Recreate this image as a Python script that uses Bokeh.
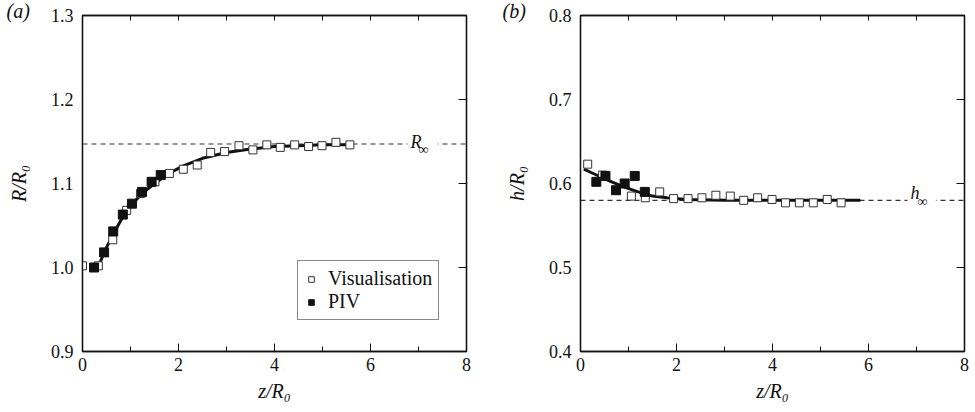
from bokeh.plotting import figure
from bokeh.models import (Range1d, LinearAxis, FixedTicker, Span, Label, Legend, LegendItem,
                          PrintfTickFormatter, Title)
from bokeh.layouts import row
from bokeh.embed import file_html
from bokeh.resources import INLINE

# ---------------- data ----------------
# Panel (a): R/R0 versus z/R0
vis_a_z = [0.00, 0.33, 0.63, 0.92, 1.21, 1.51, 1.81, 2.10, 2.39, 2.67, 2.96, 3.26, 3.55,
           3.84, 4.12, 4.42, 4.71, 4.99, 5.28, 5.57]
vis_a_r = [1.002, 1.002, 1.033, 1.068, 1.088, 1.102, 1.112, 1.117, 1.122, 1.137, 1.138, 1.145,
           1.140, 1.146, 1.143, 1.146, 1.144, 1.145, 1.149, 1.146]
piv_a_z = [0.24, 0.45, 0.64, 0.84, 1.03, 1.24, 1.44, 1.63]
piv_a_r = [1.000, 1.018, 1.043, 1.063, 1.076, 1.090, 1.102, 1.110]
fit_a_z = [0.34, 0.45, 0.64, 0.84, 1.03, 1.24, 1.50, 1.80, 2.10, 2.50, 3.00, 3.50, 4.00, 4.50,
           5.00, 5.60]
fit_a_r = [1.002, 1.018, 1.040, 1.060, 1.075, 1.088, 1.100, 1.112, 1.121, 1.130, 1.137, 1.141,
           1.144, 1.145, 1.146, 1.146]
r_inf = 1.147

# Panel (b): h/R0 versus z/R0
vis_b_z = [0.15, 0.46, 1.06, 1.35, 1.65, 1.94, 2.24, 2.53, 2.82, 3.12, 3.40, 3.69, 3.99,
           4.27, 4.56, 4.85, 5.14, 5.43]
vis_b_h = [0.623, 0.610, 0.585, 0.583, 0.590, 0.582, 0.582, 0.583, 0.586, 0.585, 0.580, 0.583,
           0.581, 0.577, 0.577, 0.577, 0.581, 0.577]
piv_b_z = [0.33, 0.52, 0.74, 0.92, 1.13, 1.34]
piv_b_h = [0.602, 0.609, 0.592, 0.600, 0.609, 0.590]
fit_b_z = [0.07, 0.30, 0.60, 0.90, 1.20, 1.50, 1.80, 2.20, 3.00, 4.00, 5.00, 5.83]
fit_b_h = [0.617, 0.611, 0.603, 0.596, 0.590, 0.585, 0.583, 0.581, 0.580, 0.580, 0.580, 0.580]
h_inf = 0.580

x_major = [0, 2, 4, 6, 8]
x_minor = [1, 3, 5, 7]
x_top = [1, 2, 3, 4, 5, 6, 7]
y_ticks_a = [0.9, 1.0, 1.1, 1.2, 1.3]
y_ticks_b = [0.4, 0.5, 0.6, 0.7, 0.8]

SERIF = "serif"
TICK_PX = "18px"
LABEL_PX = "20px"
INK = "#111111"
NBSP = "\u00a0"


def make_panel(width, border_left, border_right, y_lo, y_hi, y_ticks, ylabel, panel_tag,
               vis_x, vis_y, piv_x, piv_y, fit_x, fit_y, asym, asym_sym, asym_pos, with_legend):
    p = figure(width=width, height=410, output_backend="svg", toolbar_location=None,
               x_range=Range1d(0, 8), y_range=Range1d(y_lo, y_hi),
               min_border_left=border_left, min_border_right=border_right,
               min_border_top=15, min_border_bottom=59)
    p.background_fill_color = "white"
    p.border_fill_color = "white"
    p.outline_line_color = INK
    p.outline_line_width = 1.3
    p.grid.visible = False

    # bottom axis
    xa = p.xaxis[0]
    xa.ticker = FixedTicker(ticks=x_major, minor_ticks=x_minor)
    xa.major_tick_in = 8
    xa.major_tick_out = 0
    xa.minor_tick_in = 5
    xa.minor_tick_out = 0
    xa.major_label_text_font = SERIF
    xa.major_label_text_font_size = TICK_PX
    xa.major_label_text_color = INK
    xa.major_label_standoff = 6
    xa.axis_label = "z/R\u2080"
    xa.axis_label_text_font = SERIF
    xa.axis_label_text_font_style = "italic"
    xa.axis_label_text_font_size = LABEL_PX
    xa.axis_label_text_color = INK
    xa.axis_label_standoff = 6
    xa.axis_line_color = INK
    xa.axis_line_width = 1.3
    xa.major_tick_line_color = INK
    xa.minor_tick_line_color = INK

    # left axis
    ya = p.yaxis[0]
    ya.ticker = FixedTicker(ticks=y_ticks)
    ya.formatter = PrintfTickFormatter(format="%.1f")
    ya.major_tick_in = 0
    ya.major_tick_out = 0
    ya.minor_tick_line_color = None
    ya.major_label_text_font = SERIF
    ya.major_label_text_font_size = TICK_PX
    ya.major_label_text_color = INK
    ya.major_label_standoff = 9
    ya.axis_label = ylabel
    ya.axis_label_text_font = SERIF
    ya.axis_label_text_font_style = "italic"
    ya.axis_label_text_font_size = LABEL_PX
    ya.axis_label_text_color = INK
    ya.axis_label_standoff = 18
    ya.axis_line_color = INK
    ya.axis_line_width = 1.3

    # right axis (ticks only)
    ra = LinearAxis(ticker=FixedTicker(ticks=y_ticks), major_tick_in=8, major_tick_out=0,
                    minor_tick_line_color=None,
                    major_label_overrides={t: "" for t in y_ticks},
                    major_label_standoff=0, axis_line_color=INK, axis_line_width=1.3,
                    major_tick_line_color=INK)
    p.add_layout(ra, "right")
    # top axis (ticks only)
    ta = LinearAxis(ticker=FixedTicker(ticks=x_top), major_tick_in=5, major_tick_out=0,
                    minor_tick_line_color=None,
                    major_label_overrides={t: "" for t in x_top},
                    major_label_standoff=0, axis_line_color=INK, axis_line_width=1.3,
                    major_tick_line_color=INK)
    p.add_layout(ta, "above")

    # panel tag, drawn as a title shifted to the left of the frame
    p.add_layout(Title(text=panel_tag[0], align="left", offset=panel_tag[1], standoff=-12,
                       text_font=SERIF, text_font_style="italic", text_font_size="20px",
                       text_color=INK), "above")

    # asymptote
    p.add_layout(Span(location=asym, dimension="width", line_color="#333333",
                      line_width=1.2, line_dash="5 4", level="underlay"))
    ax, ay, sx, sy = asym_pos
    p.add_layout(Label(x=ax, y=ay, text=asym_sym + NBSP * 3, text_font=SERIF,
                       text_font_style="italic", text_font_size="18px", text_color=INK,
                       background_fill_color="white", padding=3))
    p.add_layout(Label(x=sx, y=sy, text="\u221e", text_font=SERIF,
                       text_font_size="14px", text_color=INK))

    p.line(fit_x, fit_y, line_color=INK, line_width=3)
    rv = p.scatter(vis_x, vis_y, marker="square", size=8, fill_color="white",
                   line_color="#333333", line_width=1)
    rp = p.scatter(piv_x, piv_y, marker="square", size=9, fill_color=INK,
                   line_color=INK, line_width=1)

    if with_legend:
        leg = Legend(items=[LegendItem(label="Visualisation", renderers=[rv]),
                            LegendItem(label="PIV", renderers=[rp])],
                     location=(215, 31), orientation="vertical",
                     label_text_font=SERIF, label_text_font_size=LABEL_PX,
                     label_text_color=INK, border_line_color=INK,
                     border_line_width=1, background_fill_color="white",
                     background_fill_alpha=1, padding=6, spacing=0,
                     glyph_width=14, glyph_height=14, label_standoff=10,
                     label_height=23, margin=0)
        p.add_layout(leg, "center")
    return p


pa = make_panel(482, 82, 16, 0.9, 1.3, y_ticks_a, "R/R\u2080", ("(a)", -76),
                vis_a_z, vis_a_r, piv_a_z, piv_a_r, fit_a_z, fit_a_r,
                r_inf, "R", (6.77, 1.1345, 7.0, 1.132), True)
pb = make_panel(492, 98, 10, 0.4, 0.8, y_ticks_b, "h/R\u2080", ("(b)", -78),
                vis_b_z, vis_b_h, piv_b_z, piv_b_h, fit_b_z, fit_b_h,
                h_inf, "h", (6.81, 0.5738, 7.02, 0.5702), False)

layout = row(pa, pb)
open("out.html", "w").write(file_html(layout, INLINE))
